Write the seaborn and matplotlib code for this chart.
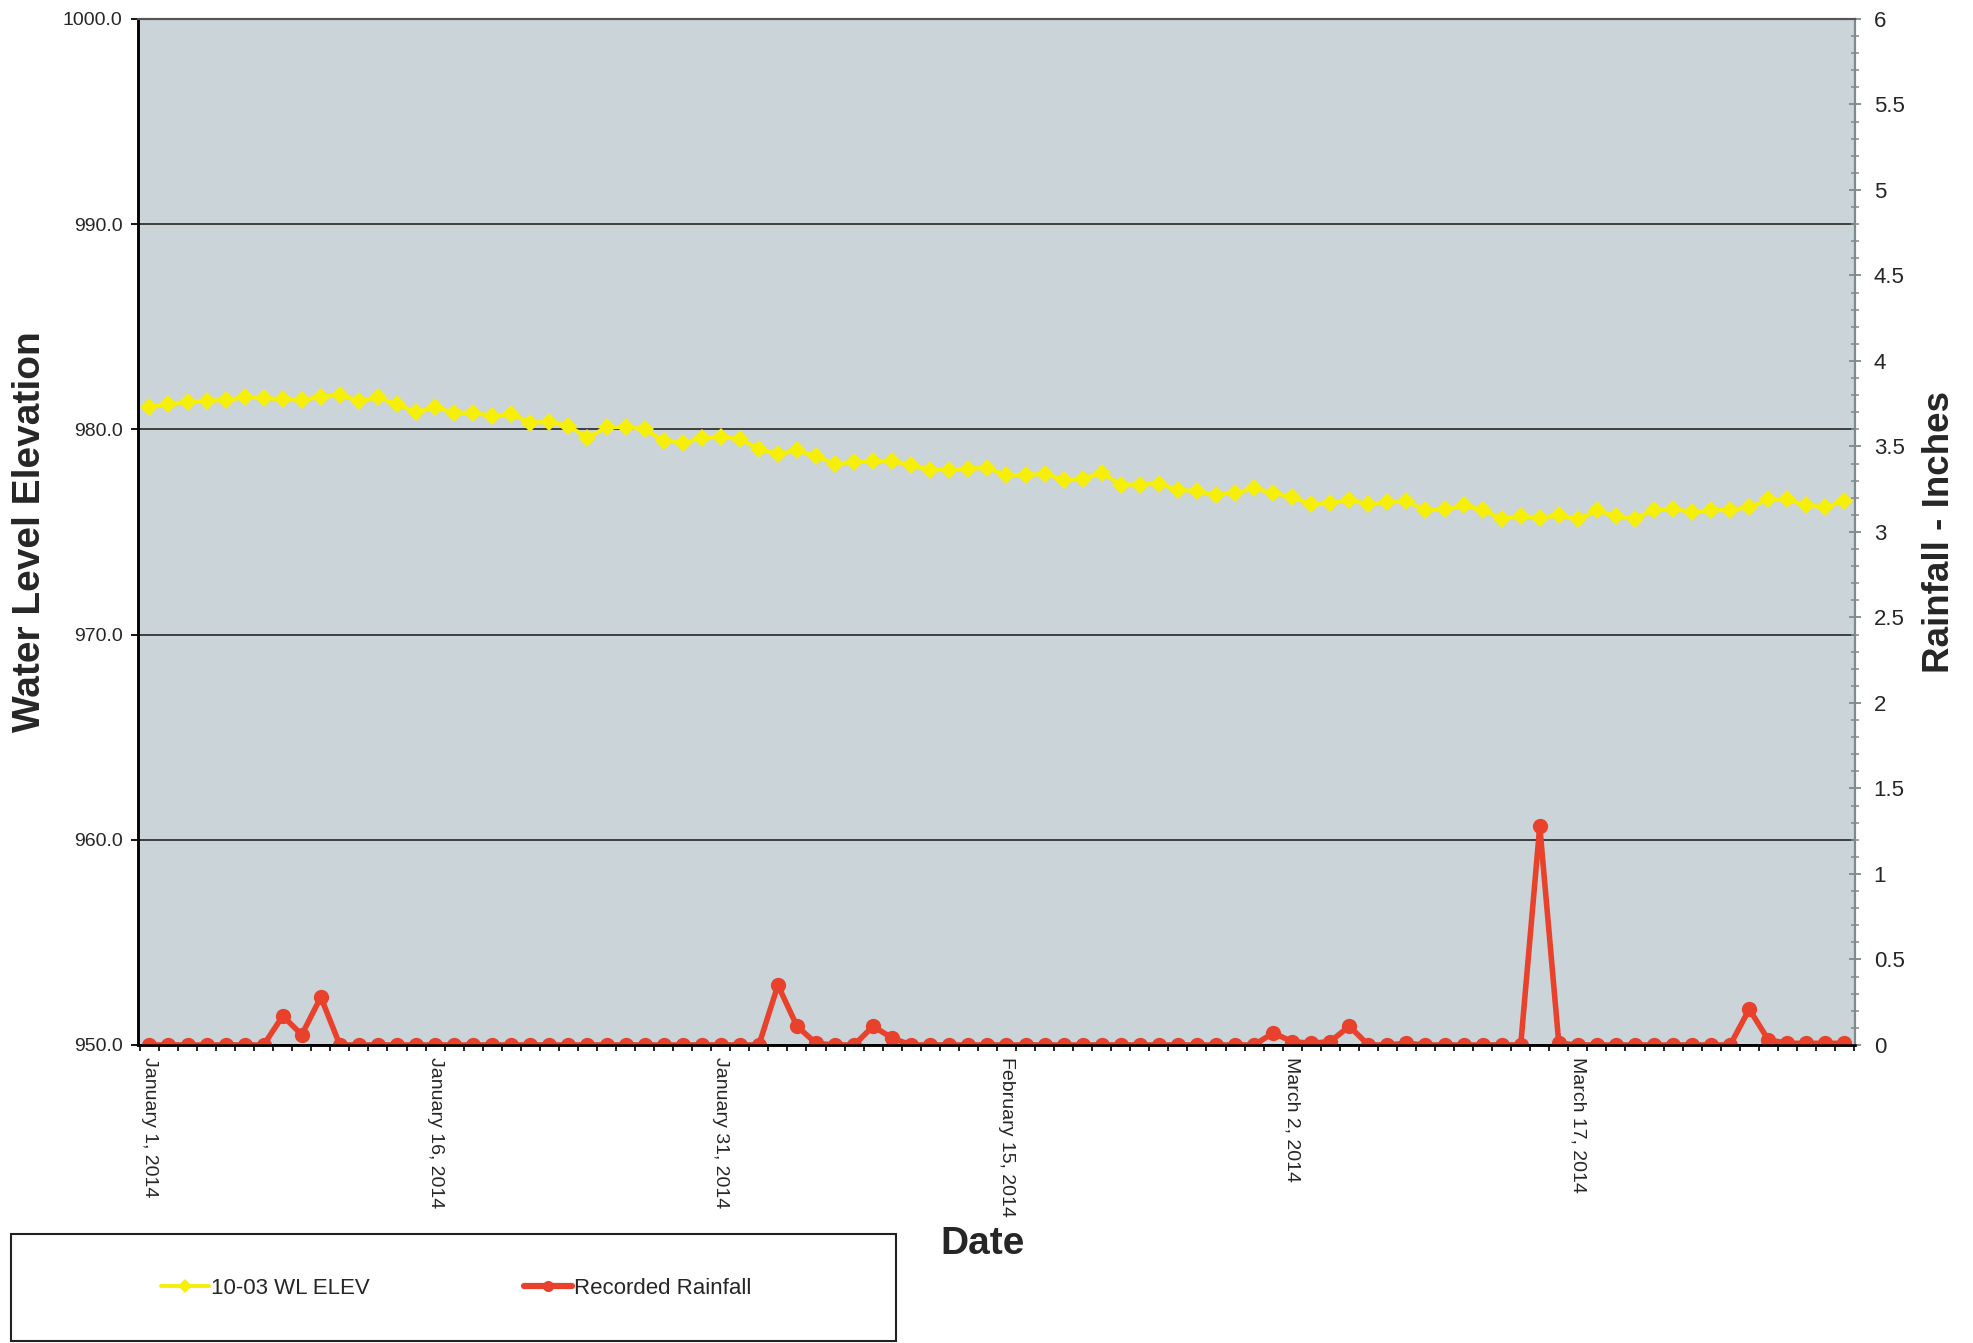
import matplotlib
matplotlib.use("Agg")
import matplotlib.pyplot as plt
import matplotlib.dates as mdates
import matplotlib.ticker as mticker
from matplotlib.lines import Line2D
from matplotlib.patches import Rectangle
import pandas as pd
import seaborn as sns

# daily readings, Jan 1 - Mar 31 2014
start_date = "2014-01-01"
n_days = 90

wl_elev = [
    981.10, 981.23, 981.34, 981.39, 981.43, 981.56, 981.51, 981.47, 981.43, 981.59,
    981.68, 981.39, 981.56, 981.22, 980.84, 981.07, 980.81, 980.81, 980.65, 980.75,
    980.32, 980.37, 980.16, 979.60, 980.10, 980.13, 980.00, 979.45, 979.35, 979.56,
    979.64, 979.52, 979.06, 978.80, 978.97, 978.69, 978.32, 978.41, 978.48, 978.45,
    978.25, 978.04, 978.04, 978.09, 978.12, 977.77, 977.77, 977.83, 977.54, 977.60,
    977.88, 977.31, 977.31, 977.36, 977.05, 976.99, 976.79, 976.91, 977.12, 976.91,
    976.70, 976.34, 976.39, 976.57, 976.34, 976.46, 976.51, 976.05, 976.10, 976.29,
    976.08, 975.64, 975.77, 975.69, 975.81, 975.61, 976.05, 975.77, 975.64, 976.08,
    976.13, 975.97, 976.05, 976.08, 976.21, 976.59, 976.59, 976.29, 976.21, 976.51,
]

rainfall = [
    0, 0, 0, 0, 0, 0, 0, 0.17, 0.06, 0.28,
    0, 0, 0, 0, 0, 0, 0, 0, 0, 0,
    0, 0, 0, 0, 0, 0, 0, 0, 0, 0,
    0, 0, 0, 0.35, 0.11, 0.01, 0, 0, 0.11, 0.04,
    0, 0, 0, 0, 0, 0, 0, 0, 0, 0,
    0, 0, 0, 0, 0, 0, 0, 0, 0, 0.07,
    0.02, 0.01, 0.02, 0.11, 0, 0, 0.01, 0, 0, 0,
    0, 0, 0, 1.28, 0.01, 0, 0, 0, 0, 0,
    0, 0, 0, 0, 0.21, 0.03, 0.01, 0.01, 0.01, 0.01,
]

left_ticks = [950, 960, 970, 980, 990, 1000]
label_every = 15

YELLOW = "#f5ef0a"
RED = "#e8412c"
PLOT_BG = "#cbd4d8"
GRID = "#333333"
RIGHT_GRAY = "#7d8b8b"

sns.set_theme(style="ticks")
plt.rcParams["font.family"] = ["Liberation Sans", "DejaVu Sans"]

dates = pd.date_range(start_date, periods=n_days, freq="D")
df = pd.DataFrame({"Date": dates, "wl": wl_elev, "rain": rainfall})

fig = plt.figure(figsize=(19.74, 13.43), dpi=100)
ax = fig.add_axes([0.0699, 0.2219, 0.8698, 0.764])
ax.set_facecolor(PLOT_BG)

sns.lineplot(data=df, x="Date", y="wl", ax=ax, color=YELLOW, marker="D",
             markersize=9.5, markeredgewidth=0, linewidth=3, legend=False)

ax2 = ax.twinx()
sns.lineplot(data=df, x="Date", y="rain", ax=ax2, color=RED, marker="o",
             markersize=11, markeredgewidth=0, linewidth=4, legend=False)

# x axis
xnum = mdates.date2num(dates)
ax.set_xlim(xnum[0] - 0.6, xnum[-1] + 0.55)
ax.set_xticks(xnum[::label_every])
ax.set_xticklabels([f"{d:%B} {d.day}, {d.year}" for d in dates[::label_every]],
                   rotation=270, fontsize=14)
ax.xaxis.set_minor_locator(mticker.FixedLocator(list(xnum - 0.5) + [xnum[-1] + 0.5]))
ax.tick_params(axis="x", which="major", length=0, pad=9)
ax.tick_params(axis="x", which="minor", length=4, width=1.2, direction="out", color="black")

# left axis
ax.set_ylim(950, 1000)
ax.set_yticks(left_ticks)
ax.set_yticklabels([f"{v:.1f}" for v in left_ticks], fontsize=14)
ax.tick_params(axis="y", length=5, width=1.3, color="black", pad=6)
ax.grid(axis="y", color=GRID, linewidth=1.3)
ax.grid(axis="x", visible=False)

# right axis
ax2.set_ylim(0, 6)
ax2.yaxis.set_major_locator(mticker.MultipleLocator(0.5))
ax2.yaxis.set_minor_locator(mticker.MultipleLocator(0.1))
ax2.yaxis.set_major_formatter(mticker.FuncFormatter(lambda v, p: f"{v:g}"))
ax2.tick_params(axis="y", which="major", direction="inout", length=9, width=1.3,
                color=RIGHT_GRAY, labelsize=16, pad=9)
ax2.tick_params(axis="y", which="minor", direction="inout", length=6, width=1.1,
                color=RIGHT_GRAY)

for a in (ax, ax2):
    a.spines["left"].set_color("black")
    a.spines["left"].set_linewidth(1.8)
    a.spines["bottom"].set_color("black")
    a.spines["bottom"].set_linewidth(1.8)
    a.spines["top"].set_color("#555555")
    a.spines["top"].set_linewidth(1.5)
    a.spines["right"].set_color(RIGHT_GRAY)
    a.spines["right"].set_linewidth(1.5)

# axis titles
ax.set_xlabel("Date", fontsize=28, fontweight="bold", va="center")
ax.xaxis.set_label_coords(0.492, -0.194)
ax.set_ylabel("Water Level Elevation", fontsize=28, fontweight="bold", va="center")
ax.yaxis.set_label_coords(-0.063, 0.5)
ax2.set_ylabel("Rainfall - Inches", fontsize=26.5, fontweight="bold", va="center")
ax2.yaxis.set_label_coords(1.049, 0.5)

# legend in a box under the plot
handles = [
    Line2D([], [], color=YELLOW, marker="D", markersize=7, markeredgewidth=0, linewidth=2.8),
    Line2D([], [], color=RED, marker="o", markersize=8, markeredgewidth=0, linewidth=4.5),
]
fig.legend(handles, ["10-03 WL ELEV", "Recorded Rainfall"], loc="center left",
           bbox_to_anchor=(0.0714, 1 - 1288 / 1343), ncol=2, frameon=False,
           fontsize=16, handlelength=2.16, handletextpad=0.1, columnspacing=6.93)
fig.add_artist(Rectangle((11 / 1974, 0.0015), 885 / 1974, 107 / 1343,
                         transform=fig.transFigure, fill=False,
                         edgecolor="#222222", linewidth=1.5))

fig.savefig("out.png", dpi=100)
